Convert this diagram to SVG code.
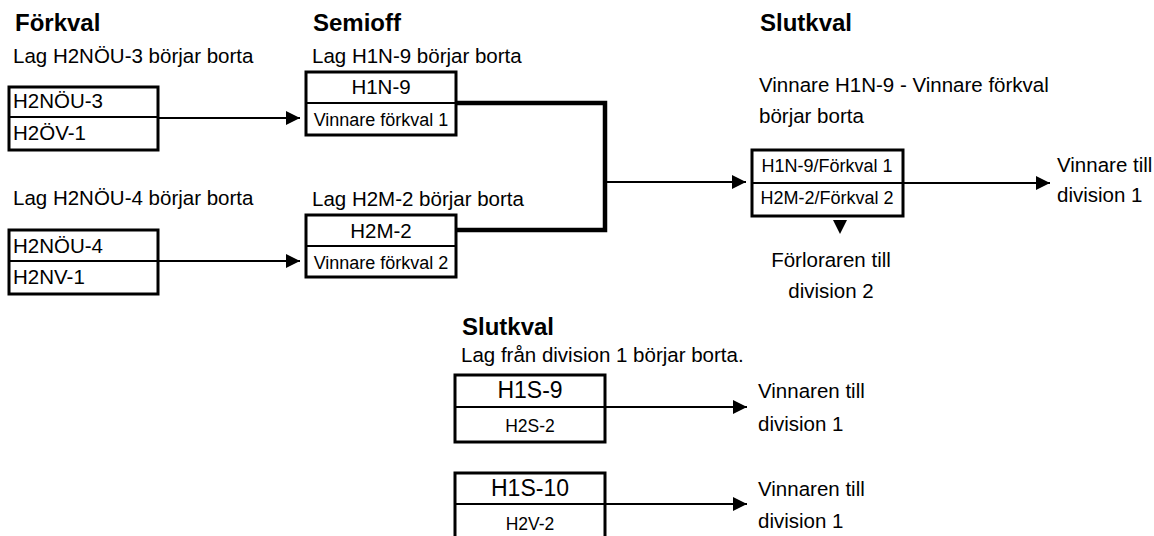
<svg xmlns="http://www.w3.org/2000/svg" width="1154" height="536" viewBox="0 0 1154 536">
<style>
text{font-family:"Liberation Sans",Arial,sans-serif;fill:#000}
.t{font-size:24px;font-weight:bold}
.n{font-size:20.5px}
.s{font-size:18px}
.xs{font-size:17.5px}
.c{text-anchor:middle}
.box{fill:#fff;stroke:#000;stroke-width:3}
.div{stroke:#000;stroke-width:2}
.ln{fill:none;stroke:#000;stroke-width:2}
.thick{fill:none;stroke:#000;stroke-width:4.5}
</style>
<defs>
<marker id="ah" markerWidth="14" markerHeight="14" refX="14" refY="7" orient="auto" markerUnits="userSpaceOnUse">
<path d="M0,0 L14,7 L0,14 Z" fill="#000"/>
</marker>
</defs>
<rect width="1154" height="536" fill="#fff"/>

<g id="titles">
<text class="t" x="15" y="31">Förkval</text>
<text class="t" x="313" y="31">Semioff</text>
<text class="t" x="760" y="31">Slutkval</text>
<text class="t" x="462" y="335">Slutkval</text>
</g>

<g id="labels">
<text class="n" x="13" y="63">Lag H2NÖU-3 börjar borta</text>
<text class="n" x="13" y="205">Lag H2NÖU-4 börjar borta</text>
<text class="n" x="312" y="63">Lag H1N-9 börjar borta</text>
<text class="n" x="312" y="206">Lag H2M-2 börjar borta</text>
<text class="n" x="759" y="92">Vinnare H1N-9 - Vinnare förkval</text>
<text class="n" x="759" y="123">börjar borta</text>
<text class="n" x="1057" y="172">Vinnare till</text>
<text class="n" x="1057" y="202">division 1</text>
<text class="n c" x="831" y="267">Förloraren till</text>
<text class="n c" x="831" y="298">division 2</text>
<text class="n" x="461" y="362">Lag från division 1 börjar borta.</text>
<text class="n" x="758" y="398">Vinnaren till</text>
<text class="n" x="758" y="431">division 1</text>
<text class="n" x="758" y="496">Vinnaren till</text>
<text class="n" x="758" y="528">division 1</text>
</g>

<g id="connectors">
<line class="ln" x1="158" y1="118" x2="300" y2="118" marker-end="url(#ah)"/>
<line class="ln" x1="158" y1="261" x2="300" y2="261" marker-end="url(#ah)"/>
<polyline class="thick" points="456,103 605,103 605,230 456,230"/>
<line class="ln" x1="605" y1="182" x2="746" y2="182" marker-end="url(#ah)"/>
<line class="ln" x1="903" y1="183" x2="1050" y2="183" marker-end="url(#ah)"/>
<path d="M833,220 L847,220 L840,234 Z" fill="#000"/>
<line class="ln" x1="605" y1="407" x2="747" y2="407" marker-end="url(#ah)"/>
<line class="ln" x1="605" y1="504" x2="747" y2="504" marker-end="url(#ah)"/>
</g>

<g id="node-h2nou3">
<rect class="box" x="9" y="87" width="149" height="63"/>
<line class="div" x1="9" y1="117" x2="158" y2="117"/>
<text class="n" x="13" y="108">H2NÖU-3</text>
<text class="n" x="13" y="140">H2ÖV-1</text>
</g>

<g id="node-h2nou4">
<rect class="box" x="9" y="230" width="149" height="64"/>
<line class="div" x1="9" y1="261" x2="158" y2="261"/>
<text class="n" x="13" y="253">H2NÖU-4</text>
<text class="n" x="13" y="284">H2NV-1</text>
</g>

<g id="node-h1n9">
<rect class="box" x="306" y="72" width="150" height="63"/>
<line class="div" x1="306" y1="103" x2="456" y2="103"/>
<text class="n c" x="381" y="94">H1N-9</text>
<text class="s c" x="381" y="126">Vinnare förkval 1</text>
</g>

<g id="node-h2m2">
<rect class="box" x="306" y="215" width="150" height="62"/>
<line class="div" x1="306" y1="246" x2="456" y2="246"/>
<text class="n c" x="381" y="238">H2M-2</text>
<text class="s c" x="381" y="269">Vinnare förkval 2</text>
</g>

<g id="node-final">
<rect class="box" x="752" y="150" width="151" height="66"/>
<line class="div" x1="752" y1="183" x2="903" y2="183"/>
<text class="s c" x="827" y="172">H1N-9/Förkval 1</text>
<text class="s c" x="827" y="204">H2M-2/Förkval 2</text>
</g>

<g id="node-h1s9">
<rect class="box" x="455" y="375" width="150" height="67"/>
<line class="div" x1="455" y1="407" x2="605" y2="407"/>
<text class="n c" x="530" y="398" style="font-size:23px">H1S-9</text>
<text class="xs c" x="530" y="432">H2S-2</text>
</g>

<g id="node-h1s10">
<rect class="box" x="455" y="473" width="150" height="70"/>
<line class="div" x1="455" y1="504" x2="605" y2="504"/>
<text class="n c" x="530" y="496" style="font-size:23px">H1S-10</text>
<text class="xs c" x="530" y="530">H2V-2</text>
</g>
</svg>
